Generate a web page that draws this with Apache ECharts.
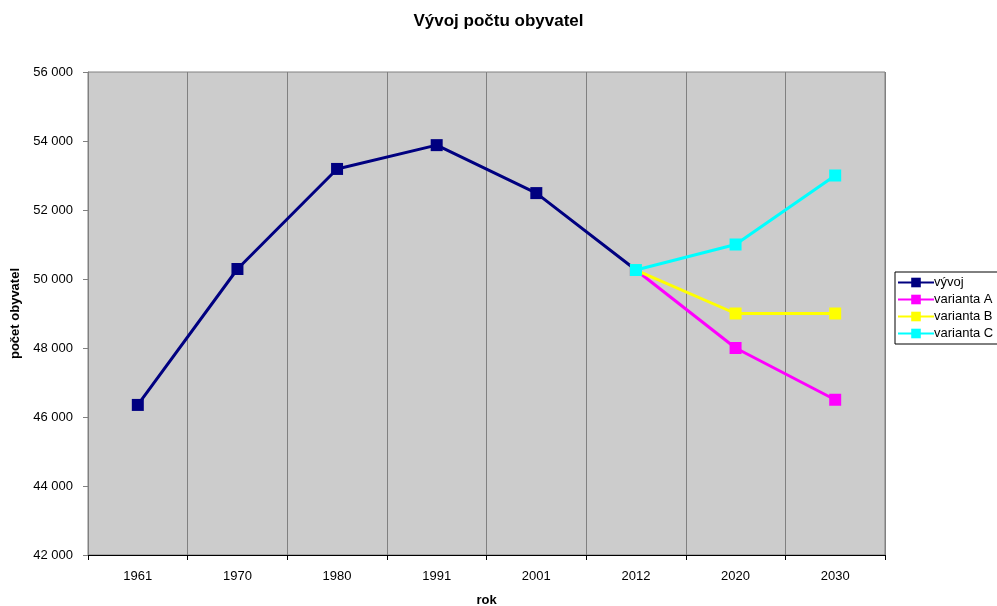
<!DOCTYPE html>
<html lang="cs">
<head>
    <meta charset="UTF-8">
    <title>Vývoj počtu obyvatel</title>
    <script src="https://cdn.jsdelivr.net/npm/echarts@6/dist/echarts.min.js"></script>
    <style>
        html, body { margin: 0; padding: 0; background: #fff; overflow: hidden; }
        #chart { width: 997px; height: 606px; }
    </style>
</head>
<body>
    <div id="chart"></div>
    <script>
        // data
        const years = ['1961', '1970', '1980', '1991', '2001', '2012', '2020', '2030'];
        const vyvoj = [46350, 50290, 53190, 53880, 52490, 50260, null, null];
        const variantaA = [null, null, null, null, null, 50260, 48000, 46500];
        const variantaB = [null, null, null, null, null, 50260, 49000, 49000];
        const variantaC = [null, null, null, null, null, 50260, 51000, 53000];

        const font = 'Liberation Sans, Arial, sans-serif';

        function line(name, data, color) {
            return {
                name: name,
                type: 'line',
                data: data,
                symbol: 'rect',
                symbolSize: 12,
                showSymbol: true,
                connectNulls: false,
                lineStyle: { color: color, width: 3 },
                itemStyle: { color: color },
                emphasis: { disabled: true }
            };
        }

        const chart = echarts.init(document.getElementById('chart'));
        chart.setOption({
            animation: false,
            title: {
                text: 'Vývoj počtu obyvatel',
                left: 'center',
                top: 8,
                textStyle: { fontFamily: font, fontSize: 17, fontWeight: 'bold', color: '#000' }
            },
            legend: {
                orient: 'vertical',
                left: 895,
                top: 272,
                padding: [4, 8, 4, 2],
                borderColor: '#000',
                borderWidth: 1,
                itemWidth: 36,
                itemHeight: 12,
                itemGap: 4,
                textStyle: { fontFamily: font, fontSize: 13, lineHeight: 12, color: '#000', padding: [0, 0, 0, -5] },
                data: ['vývoj', 'varianta A', 'varianta B', 'varianta C']
            },
            grid: {
                left: 88,
                right: 112,
                top: 72,
                bottom: 51,
                outerBoundsMode: 'none',
                containLabel: false,
                show: true,
                backgroundColor: '#cccccc',
                borderColor: '#808080',
                borderWidth: 1
            },
            xAxis: {
                type: 'category',
                data: years,
                boundaryGap: true,
                name: 'rok',
                nameLocation: 'middle',
                nameGap: 39,
                nameTextStyle: { fontFamily: font, fontSize: 13, fontWeight: 'bold', color: '#000' },
                axisLine: { lineStyle: { color: '#000' } },
                axisTick: { show: true, length: 5, lineStyle: { color: '#000' } },
                axisLabel: { fontFamily: font, fontSize: 13, color: '#000', margin: 15 },
                splitLine: { show: true, lineStyle: { color: '#808080', width: 1 } }
            },
            yAxis: {
                type: 'value',
                min: 42000,
                max: 56000,
                interval: 2000,
                name: 'počet obyvatel',
                nameLocation: 'middle',
                nameGap: 63,
                nameRotate: 90,
                nameTextStyle: { fontFamily: font, fontSize: 13, fontWeight: 'bold', color: '#000' },
                axisLine: { show: true, lineStyle: { color: '#808080' } },
                axisTick: { show: true, length: 5, lineStyle: { color: '#808080' } },
                axisLabel: {
                    fontFamily: font,
                    fontSize: 13,
                    color: '#000',
                    margin: 15,
                    formatter: v => String(v).replace(/\B(?=(\d{3})+(?!\d))/g, ' ')
                },
                splitLine: { show: false }
            },
            series: [
                line('vývoj', vyvoj, '#000080'),
                line('varianta A', variantaA, '#ff00ff'),
                line('varianta B', variantaB, '#ffff00'),
                line('varianta C', variantaC, '#00ffff')
            ]
        });
    </script>
</body>
</html>
